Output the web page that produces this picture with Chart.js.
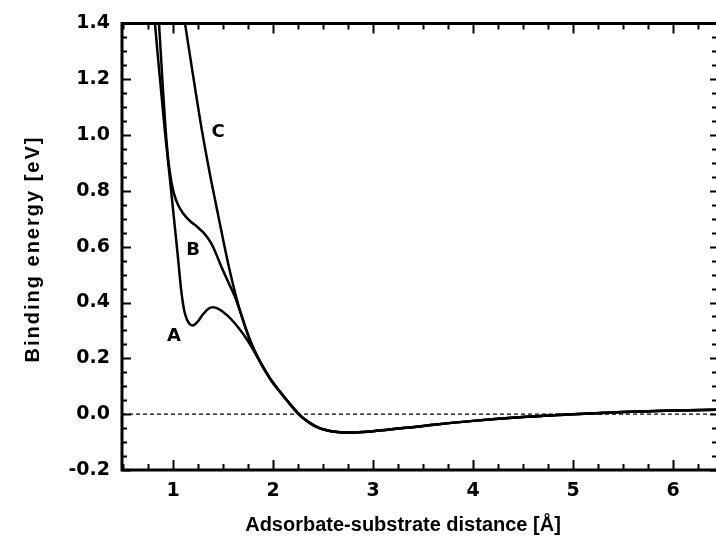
<!DOCTYPE html>
<html>
<head>
<meta charset="utf-8">
<script src="https://cdn.jsdelivr.net/npm/chart.js@4/dist/chart.umd.min.js"></script>
<style>
  body { margin: 0; background: #fff; }
  canvas { display: block; }
</style>
</head>
<body>
<canvas id="energychart" width="716" height="543"></canvas>
<script>
// curve A: dip at 1.2, bump at 1.4
var xA = [0.79, 0.82, 0.87, 0.92, 0.97, 1.01, 1.05, 1.08, 1.11, 1.14, 1.17, 1.20, 1.25, 1.30, 1.35, 1.40, 1.45, 1.54, 1.62, 1.70, 1.77];
var yA = [1.55, 1.40, 1.20, 1.01, 0.84, 0.70, 0.56, 0.45, 0.375, 0.338, 0.322, 0.318, 0.333, 0.358, 0.377, 0.383, 0.378, 0.355, 0.325, 0.288, 0.25];
// curve B: shoulder near 0.7
var xB = [0.83, 0.86, 0.89, 0.92, 0.95, 0.98, 1.01, 1.05, 1.10, 1.17, 1.24, 1.30, 1.35, 1.40, 1.47, 1.54, 1.62];
var yB = [1.58, 1.40, 1.22, 1.05, 0.92, 0.84, 0.79, 0.75, 0.72, 0.692, 0.672, 0.652, 0.63, 0.60, 0.54, 0.483, 0.42];
// curve C: plain repulsive wall
var xC = [1.08, 1.12, 1.20, 1.29, 1.38, 1.47, 1.57];
var yC = [1.50, 1.40, 1.215, 1.015, 0.84, 0.68, 0.51];
// common part of the curves (B and C join first, A a bit later)
var xTail = [1.67, 1.77, 1.87, 1.97, 2.07, 2.17, 2.27, 2.37, 2.47, 2.57, 2.67, 2.77, 2.9, 3.0, 3.5, 4.0, 4.5, 5.0, 5.5, 6.0, 6.45];
var yTail = [0.37, 0.265, 0.188, 0.128, 0.08, 0.036, -0.004, -0.032, -0.051, -0.06, -0.065, -0.066, -0.064, -0.061, -0.042, -0.024, -0.01, 0.0, 0.008, 0.013, 0.016];

var xTickLabels = [1, 2, 3, 4, 5, 6];
var yTickLabels = [-0.2, 0.0, 0.2, 0.4, 0.6, 0.8, 1.0, 1.2, 1.4];
var curveNames = ['A', 'B', 'C'];
var namePosX = [1.01, 1.20, 1.45];
var namePosY = [0.28, 0.588, 1.008];

var xMin = 0.49, xMax = 6.43, yMin = -0.2, yMax = 1.4;

function points(xs, ys) {
    var out = [];
    for (var i = 0; i < xs.length; i++) {
        out.push({x: xs[i], y: ys[i]});
    }
    return out;
}

// own points, then the shared tail from where they stop
function curve(xs, ys) {
    var last = xs[xs.length - 1];
    var out = points(xs, ys);
    for (var i = 0; i < xTail.length; i++) {
        if (xTail[i] > last + 1e-6) out.push({x: xTail[i], y: yTail[i]});
    }
    return out;
}

var tickFont = {family: 'DejaVu Sans', size: 19, weight: 'bold'};

// inward tick marks, spines, titles and curve names
var frame = {
    id: 'frame',
    afterDatasetsDraw: function (chart) {
        var c = chart.ctx;
        var a = chart.chartArea;
        var sx = chart.scales.x, sy = chart.scales.y;
        c.save();
        c.strokeStyle = '#000';
        c.lineCap = 'butt';

        // y ticks every 0.05, longer at labelled values
        c.lineWidth = 2;
        for (var v = yMin; v <= yMax + 1e-6; v += 0.05) {
            var py = Math.round(sy.getPixelForValue(v)) + 0.5;
            var major = Math.abs(v * 5 - Math.round(v * 5)) < 1e-6;
            var len = major ? 9 : 5;
            c.beginPath();
            c.moveTo(a.left, py); c.lineTo(a.left + len, py);
            c.moveTo(a.right, py); c.lineTo(a.right - (major ? 6 : 4), py);
            c.stroke();
        }
        // x ticks every 0.25
        for (var u = 0.5; u <= xMax + 1e-6; u += 0.25) {
            var px = Math.round(sx.getPixelForValue(u)) + 0.5;
            var big = Math.abs(u - Math.round(u)) < 1e-6;
            var l2 = big ? 10 : 6;
            c.beginPath();
            c.moveTo(px, a.bottom); c.lineTo(px, a.bottom - l2);
            c.moveTo(px, a.top); c.lineTo(px, a.top + l2);
            c.stroke();
        }

        // spines
        c.lineWidth = 3;
        c.beginPath();
        c.moveTo(a.left, a.top - 1.5); c.lineTo(a.left, a.bottom + 1.5);
        c.moveTo(a.left - 1.5, a.bottom); c.lineTo(a.right, a.bottom);
        c.moveTo(a.left - 1.5, a.top); c.lineTo(a.right, a.top);
        c.stroke();

        // curve names
        c.fillStyle = '#000';
        c.font = 'bold 18px "DejaVu Sans"';
        c.textAlign = 'center';
        c.textBaseline = 'middle';
        for (var i = 0; i < curveNames.length; i++) {
            c.fillText(curveNames[i], sx.getPixelForValue(namePosX[i]), sy.getPixelForValue(namePosY[i]));
        }

        // axis titles
        c.font = 'bold 20px "Liberation Sans"';
        c.fillText('Adsorbate-substrate distance [\u00C5]', 403, 525);
        c.translate(33, 249);
        c.rotate(-Math.PI / 2);
        if ('letterSpacing' in c) c.letterSpacing = '2px';
        c.fillText('Binding energy [eV]', 0, 0);
        c.restore();
    }
};

var ctx = document.getElementById('energychart').getContext('2d');
var lineStyle = {
    showLine: true,
    borderColor: '#000',
    borderWidth: 2.5,
    pointRadius: 0,
    cubicInterpolationMode: 'monotone'
};

var energychart = new Chart(ctx, {
    type: 'scatter',
    data: {
        datasets: [
            Object.assign({label: 'A', data: curve(xA, yA)}, lineStyle),
            Object.assign({label: 'B', data: curve(xB, yB)}, lineStyle),
            Object.assign({label: 'C', data: curve(xC, yC)}, lineStyle),
            {
                label: 'zero',
                data: points([xMin, xMax], [0, 0]),
                showLine: true,
                borderColor: '#000',
                borderWidth: 1.3,
                borderDash: [4, 3],
                pointRadius: 0
            }
        ]
    },
    options: {
        responsive: false,
        animation: false,
        layout: {padding: {top: 22, left: 0, right: 0, bottom: 0}},
        plugins: {
            legend: {display: false},
            tooltip: {enabled: false}
        },
        scales: {
            x: {
                type: 'linear',
                min: xMin,
                max: xMax,
                afterBuildTicks: function (s) {
                    s.ticks = xTickLabels.map(function (v) { return {value: v}; });
                },
                afterFit: function (s) { s.height = 73; },
                grid: {display: false, drawTicks: false},
                border: {display: false},
                ticks: {
                    color: '#000',
                    font: tickFont,
                    padding: 10,
                    maxRotation: 0,
                    callback: function (v) { return String(v); }
                }
            },
            y: {
                type: 'linear',
                min: yMin,
                max: yMax,
                afterBuildTicks: function (s) {
                    s.ticks = yTickLabels.map(function (v) { return {value: v}; });
                },
                afterFit: function (s) { s.width = 122; },
                grid: {display: false, drawTicks: false},
                border: {display: false},
                ticks: {
                    color: '#000',
                    font: tickFont,
                    padding: 12,
                    callback: function (v) { return v.toFixed(1); }
                }
            }
        }
    },
    plugins: [frame]
});
</script>
</body>
</html>
